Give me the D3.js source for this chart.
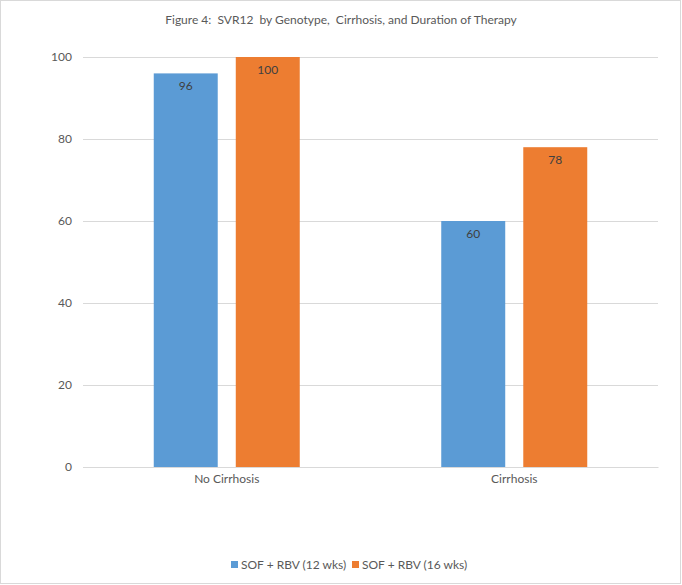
<!DOCTYPE html>
<html>
<head>
<meta charset="utf-8">
<script src="https://cdnjs.cloudflare.com/ajax/libs/d3/7.8.5/d3.min.js"></script>
<style>
	body { margin: 0; background: #fff; }
	text { font-family: Lato, "Liberation Sans", sans-serif; }
</style>
</head>
<body>
<div id="grafica"></div>
<script>
var categorias = ['No Cirrhosis', 'Cirrhosis'];
var series = ['SOF + RBV (12 wks)', 'SOF + RBV (16 wks)'];
var valores12 = [96, 60];
var valores16 = [100, 78];
var ticks = [0, 20, 40, 60, 80, 100];
var colores = ['#5B9BD5', '#ED7D31'];

var W = 682, H = 585,
	m = {t: 57, r: 24, b: 118, l: 83},
	w = W - m.l - m.r,
	h = H - m.t - m.b;

var svg = d3.select('#grafica').append('svg')
	.attr('width', W)
	.attr('height', H);

// borde del grafico
svg.append('rect')
	.attr('x', 0.5).attr('y', 0.5)
	.attr('width', W - 2).attr('height', H - 2)
	.attr('fill', '#fff')
	.attr('stroke', '#d9d9d9');

svg.append('text')
	.attr('x', 341)
	.attr('y', 24)
	.attr('text-anchor', 'middle')
	.attr('fill', '#595959')
	.style('font-size', '12px')
	.style('white-space', 'pre')
	.text('Figure 4:  SVR12  by Genotype,  Cirrhosis, and Duration of Therapy');

var g = svg.append('g').attr('transform', 'translate(' + m.l + ',' + m.t + ')');

var y = d3.scaleLinear().domain([0, 100]).range([h, 0]);
var x0 = d3.scaleBand().domain(categorias).range([0, w]).padding(0);
var grupo = 146;
var x1 = d3.scaleBand().domain(series)
	.range([(x0.bandwidth() - grupo) / 2, (x0.bandwidth() + grupo) / 2])
	.paddingInner(0.22).paddingOuter(0);

// lineas de la cuadricula
g.append('g')
	.call(d3.axisLeft(y).tickValues(ticks).tickSize(-w).tickPadding(11).tickFormat(d3.format('d')))
	.call(function(a) {
		a.select('.domain').remove();
		a.selectAll('line').attr('stroke', '#d9d9d9');
		a.selectAll('text').attr('fill', '#595959').style('font-size', '12px');
	});

var data = categorias.map(function(c, i) {
	return {cat: c, vals: [valores12[i], valores16[i]]};
});

var grupos = g.selectAll('.grupo').data(data)
	.enter().append('g')
	.attr('class', 'grupo')
	.attr('transform', function(d) { return 'translate(' + x0(d.cat) + ',0)'; });

var barras = grupos.selectAll('.barra')
	.data(function(d) { return d.vals.map(function(v, j) { return {s: series[j], v: v, j: j}; }); })
	.enter();

barras.append('rect')
	.attr('class', 'barra')
	.attr('x', function(d) { return x1(d.s); })
	.attr('y', function(d) { return y(d.v); })
	.attr('width', x1.bandwidth())
	.attr('height', function(d) { return h - y(d.v); })
	.attr('fill', function(d) { return colores[d.j]; });

barras.append('text')
	.attr('x', function(d) { return x1(d.s) + x1.bandwidth() / 2; })
	.attr('y', function(d) { return y(d.v) + 17; })
	.attr('text-anchor', 'middle')
	.attr('fill', '#404040')
	.style('font-size', '12px')
	.text(function(d) { return d.v; });

// eje x
g.append('g')
	.attr('transform', 'translate(0,' + h + ')')
	.call(d3.axisBottom(x0).tickSize(0).tickPadding(7))
	.call(function(a) {
		a.select('.domain').attr('stroke', '#d9d9d9');
		a.selectAll('text').attr('fill', '#595959').style('font-size', '12px');
	});

// leyenda
var xs = [231, 352];
var ley = svg.selectAll('.ley').data(series)
	.enter().append('g')
	.attr('class', 'ley')
	.attr('transform', function(d, i) { return 'translate(' + xs[i] + ',561)'; });
ley.append('rect')
	.attr('width', 7).attr('height', 7)
	.attr('fill', function(d, i) { return colores[i]; });
ley.append('text')
	.attr('x', 10).attr('y', 8)
	.attr('fill', '#595959')
	.style('font-size', '12px')
	.text(function(d) { return d; });
</script>
</body>
</html>
